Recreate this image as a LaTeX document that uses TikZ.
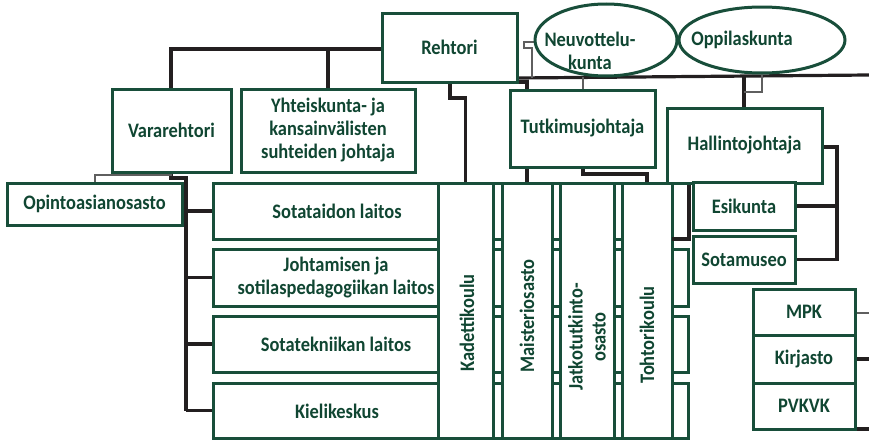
\documentclass[tikz,border=0pt]{standalone}
\usepackage{fontspec}
\setmainfont{Carlito}[FakeStretch=0.895]
\usetikzlibrary{shapes.geometric}
\definecolor{boxgreen}{RGB}{24,78,58}
\definecolor{txtgreen}{RGB}{16,70,50}
\definecolor{linkblack}{RGB}{35,31,32}
\definecolor{linkgray}{RGB}{95,95,95}
\newcommand\orgfont{\fontsize{20.6}{23}\selectfont\bfseries}
% box given by its corners: [options]{name}{x1}{y1}{x2}{y2}{text}
\newcommand\orgbox[6][]{\node[box,minimum width={(#5)-(#3)},minimum height={(#6)-(#4)},#1] (#2) at ({((#3)+(#5))/2},{((#4)+(#6))/2})}
\begin{document}
\begin{tikzpicture}[x=1pt,y=-1pt,
  box/.style={draw=boxgreen, line width=3pt, fill=white, inner sep=0pt,
              text=txtgreen, font=\orgfont, align=center},
  ell/.style={ellipse, draw=boxgreen, line width=3pt, fill=white, inner sep=0pt},
  lbl/.style={text=txtgreen, font=\orgfont, align=center, inner sep=0pt},
  conn/.style={draw=linkblack, line width=3.2pt},
  thin/.style={draw=linkgray, line width=1.1pt},
]
\useasboundingbox (0,0) rectangle (869,439);

% ---- connectors (drawn first, boxes cover them) ----
\coordinate (trunktop) at (186,178);
\draw[conn] (171,89) -- (171,49) -- (382,49);
\draw[conn] (328,49) -- (328,89);
\draw[conn] (171,172) -- (171,178) -- (trunktop) -- (186,410.5);
\foreach \yy in {211,277.5,344,410.5} \draw[conn] (186,\yy) -- (213,\yy);
\draw[thin] (172,175) -- (95,175) -- (95,183);
\draw[conn] (450,82) -- (450,98) -- (465.5,98) -- (465.5,183);
\draw[conn] (470,82) -- (527,82) -- (527,183);
\draw[conn] (517,48) -- (517,78) -- (869,75);
\draw[thin] (537,42) -- (524,42) -- (524,48) -- (532,48) -- (532,78);
\draw[thin] (583,77) -- (583,90);
\draw[conn] (583,167) -- (583,174) -- (647,174) -- (647,183);
\draw[conn] (744,76) -- (744,108);
\draw[thin] (744,92) -- (762,92) -- (762,75);
\draw[conn] (822,147) -- (837,147) -- (837,259.5) -- (795,259.5);
\draw[conn] (795,206) -- (837,206);
\draw[thin] (855,313) -- (869,313);
\draw[conn] (855,359) -- (869,359);
\draw[conn] (838,429) -- (869,429);

% ---- top level ----
\orgbox{rehtori}{382}{13}{517}{82}{Rehtori};
\node[ell, minimum width=142pt, minimum height=72pt] (neuv) at (606,40) {};
\node[lbl] (neuvt) at (590,51) {Neuvottelu-\\kunta};
\node[ell, minimum width=166pt, minimum height=66pt] (oppi) at (762,40) {};
\node[lbl] (oppit) at (742,40) {Oppilaskunta};

\orgbox{vara}{112}{89}{231}{172}{Vararehtori};
\orgbox{yht}{241}{89}{415}{172}{Yhteiskunta- ja\\kansainvälisten\\suhteiden johtaja};
\orgbox{tutk}{510}{90}{655}{167}{Tutkimusjohtaja};
\orgbox{hall}{667}{108}{822}{183}{Hallintojohtaja};

\orgbox{opinto}{7}{183}{182}{225}{Opintoasianosasto};

% ---- departments (wide rows) ----
\orgbox{laitos1}{213}{183}{688}{239}{};
\orgbox{laitos2}{213}{249}{688}{306}{};
\orgbox{laitos3}{213}{316}{688}{372.5}{};
\orgbox{laitos4}{213}{383}{688}{438}{};
\node[lbl] (t1) at (337,211) {Sotataidon laitos};
\node[lbl] (t2) at (336,278) {Johtamisen ja\\sotilaspedagogiikan laitos};
\node[lbl] (t3) at (336,344) {Sotatekniikan laitos};
\node[lbl] (t4) at (337,411) {Kielikeskus};

% ---- schools (tall columns over the rows) ----
\orgbox{kad}{438}{183}{493}{438}{};
\orgbox{mais}{502}{183}{552}{438}{};
\orgbox{jatko}{560}{183}{614}{438}{};
\orgbox{toht}{622}{183}{672}{438}{};
\node[lbl, rotate=90] (kadt) at (467,323) {Kadettikoulu};
\node[lbl, rotate=90] (maist) at (527,316) {Maisteriosasto};
\node[lbl, rotate=90] (jatkot) at (587,337) {Jatkotutkinto-\\osasto};
\node[lbl, rotate=90] (tohtt) at (647,335) {Tohtorikoulu};
\draw[conn] (689,184.5) -- (689,239) -- (672,239);

% ---- administration ----
\orgbox{esik}{693}{182}{795}{230}{Esikunta};
\orgbox{museo}{693}{236}{795}{283}{Sotamuseo};
\orgbox{mpk}{753}{289}{855}{335}{MPK};
\orgbox{kirj}{753}{335}{855}{383}{Kirjasto};
\orgbox{pvkvk}{753}{383}{855}{429}{PVKVK};
\end{tikzpicture}
\end{document}
